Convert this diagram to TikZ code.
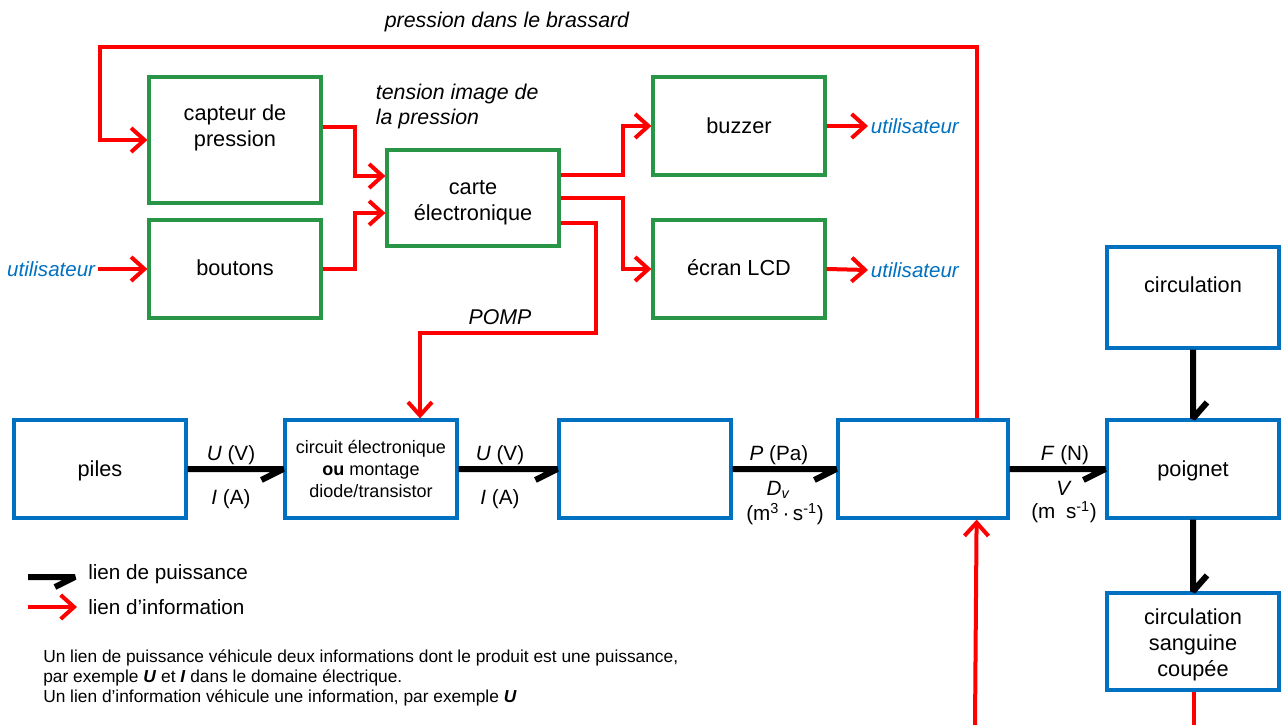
\documentclass[tikz,border=0pt]{standalone}
\usepackage{fontspec}
\setmainfont{Liberation Sans}
\usetikzlibrary{arrows.meta,calc}
\definecolor{gbord}{RGB}{40,150,70}
\definecolor{bbord}{RGB}{0,112,192}
\definecolor{ured}{RGB}{255,0,0}
\definecolor{utxt}{RGB}{0,112,192}
\newcommand{\shiftedtext}[2]{\raisebox{#1}[\height][\depth]{\begin{tabular}{@{}c@{}}#2\end{tabular}}}
\begin{document}
\begin{tikzpicture}[x=0.75pt,y=-0.75pt,
  gbox/.style={draw=gbord, line width=2.4pt, minimum width=129pt, minimum height=73.5pt, inner sep=0pt, align=center, font=\fontsize{16.3}{19.5}\selectfont},
  bbox/.style={gbox, draw=bbord},
  info/.style={draw=ured, line width=3pt, -{Straight Barb[length=10pt,width=18pt]}},
  infol/.style={draw=ured, line width=3pt},
  pow/.style={draw=black, line width=4.5pt, line join=bevel},
  lab/.style={font=\fontsize{15.5}{18}\selectfont, inner sep=0pt},
  ilab/.style={font=\itshape\fontsize{16}{18.75}\selectfont, inner sep=2pt},
  utext/.style={ilab, font=\itshape\fontsize{15.4}{18}\selectfont, text=utxt},
]
\useasboundingbox (0,0) rectangle (1286,725);

% green boxes
\node[gbox, minimum height=94.5pt] (cap) at (235,140) {\shiftedtext{8.5pt}{capteur de\\pression}};
\node[gbox] (bout) at (235,269) {\shiftedtext{-1pt}{boutons}};
\node[gbox, minimum height=72pt] (carte) at (473,198) {\shiftedtext{-3.5pt}{carte\\électronique}};
\node[gbox] (buz) at (739,126) {buzzer};
\node[gbox] (ecran) at (739,269) {\shiftedtext{-1pt}{écran LCD}};

% blue boxes
\node[bbox] (piles) at (100,469) {\shiftedtext{-2pt}{piles}};
\node[bbox, font=\fontsize{13.5}{16.5}\selectfont] (circ) at (371,469) {circuit électronique\\\textbf{ou} montage\\diode/transistor};
\node[bbox] (b3) at (645,469) {};
\node[bbox, minimum width=127.5pt] (b4) at (923,469) {};
\node[bbox, minimum height=75.75pt] (circu) at (1193,297.5) {\shiftedtext{8pt}{circulation}};
\node[bbox] (poig) at (1193,469) {\shiftedtext{-2pt}{poignet}};
\node[bbox, minimum height=72.75pt] (csc) at (1193,641.5) {\shiftedtext{-3pt}{circulation\\sanguine\\coupée}};

% labels
\node[ilab] (lbras) at (507,22) {pression dans le brassard};
\node[ilab, anchor=west, align=left] (ltens) at (373,106.5) {tension image de\\la pression};
\node[ilab] (lpomp) at (500,317) {POMP};
\node[utext, anchor=west] (u1) at (868,126) {utilisateur};
\node[utext, anchor=west] (u2) at (868,270) {utilisateur};
\node[utext, anchor=east] (u0) at (98,269) {utilisateur};

% information links
\coordinate (tl) at (100,47);
\draw[info] ($(b4.north east)+(-33,0)$) |- (tl) |- (cap.west);
\draw[info] ($(cap.east)+(0,-13)$) -- ++(32,0) |- ($(carte.west)+(0,-22)$);
\draw[info] (bout.east) -- ++(32,0) |- ($(carte.west)+(0,15)$);
\draw[info] ($(carte.east)+(0,-23)$) -- ++(62,0) |- (buz.west);
\draw[info] (carte.east) -- ++(62,0) |- (ecran.west);
\coordinate (pc) at (596,333);
\draw[info] ($(carte.east)+(0,25)$) -| (pc) -| ($(circ.north)+(49,0)$);
\draw[info] (buz.east) -- (u1.west);
\draw[info] (ecran.east) -- (u2.west);
\draw[info] (u0.east) -- (bout.west);
\coordinate (bot1) at (975,725);
\draw[info] (bot1) -- ($(b4.south east)+(-33,0)$);
\coordinate (bot2) at (1194,725);
\draw[infol] ($(csc.south)+(1,0)$) -- (bot2);

% power links
\draw[pow] (piles.east) -- (circ.west) -- ++(-22,11);
\draw[pow] (circ.east) -- (b3.west) -- ++(-22,11);
\draw[pow] (b3.east) -- (b4.west) -- ++(-22,11);
\draw[pow] (b4.east) -- (poig.west) -- ++(-22,11);
\draw[pow] (circu.south) -- (poig.north) -- ++(14,-16);
\draw[pow] (poig.south) -- (csc.north) -- ++(14,-16);

\node[lab] (l1a) at (231,455) {\textit{U} (V)};
\node[lab] (l1b) at (231,499) {\textit{I} (A)};
\node[lab] (l2a) at (500,455) {\textit{U} (V)};
\node[lab] (l2b) at (500,499) {\textit{I} (A)};
\node[lab] (l3a) at (779,455) {\textit{P} (Pa)};
\node[lab] (l3b) at (778,490) {\textit{D\textsubscript{v}}};
\node[lab] (l3c) at (785,514) {(m\textsuperscript{3}\,·\,s\textsuperscript{-1})};
\node[lab] (l4a) at (1065,455) {\textit{F} (N)};
\node[lab] (l4b) at (1064,488) {\textit{V}};
\node[lab] (l4c) at (1064,512) {(m\hspace{8pt}s\textsuperscript{-1})};

% legend
\coordinate (lp1) at (28,577);
\coordinate (lp2) at (75,577);
\draw[pow] (lp1) -- (lp2) -- ++(-20,10);
\node[lab, anchor=west] (tpow) at (88,574) {lien de puissance};
\coordinate (li1) at (28,607);
\coordinate (li2) at (77,607);
\draw[info] (li1) -- (li2);
\node[lab, anchor=west] (tinf) at (88,607) {lien d’information};
\node[anchor=north west, align=left, font=\fontsize{13}{15}\selectfont, inner sep=0pt] (para) at (43,649) {Un lien de puissance véhicule deux informations dont le produit est une puissance,\\par exemple \textit{\textbf{U}} et \textit{\textbf{I}} dans le domaine électrique.\\Un lien d’information véhicule une information, par exemple \textit{\textbf{U}}};
\end{tikzpicture}
\end{document}
